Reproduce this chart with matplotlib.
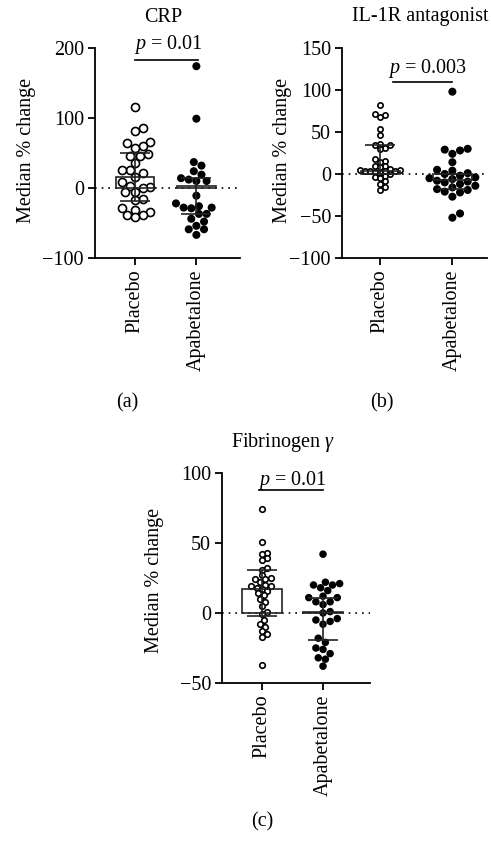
import numpy as np
import matplotlib
matplotlib.use("Agg")
import matplotlib.pyplot as plt

# ---- data ----
groups = ["Placebo", "Apabetalone"]

crp_placebo = [116, 86, 82, 66, 64, 60, 57, 49, 45, 45, 36, 26, 26, 21, 16, 8, 3, 2, 0,
               -6, -6, -16, -17, -29, -31, -35, -39, -39, -42]
crp_apab = [174, 99, 37, 32, 24, 19, 14, 12, 10, 10, -11, -22, -26, -28, -28, -29,
            -37, -37, -44, -48, -54, -59, -59, -67]

il1r_placebo = [82, 72, 70, 68, 54, 47, 36, 35, 34, 31, 30, 18, 16, 14, 10, 9, 8, 6, 5, 5,
                4, 4, 3, 3, 2, 1, 0, -2, -4, -5, -8, -12, -15, -19]
il1r_apab = [98, 30, 29, 28, 24, 14, 5, 4, 1, 0, -2, -4, -5, -6, -8, -9, -10, -12, -14,
             -16, -18, -19, -21, -22, -27, -47, -52]

fib_placebo = [74, 51, 43, 42, 39, 38, 32, 31, 27, 25, 24, 24, 22, 20, 19, 19, 18, 17, 16,
               14, 13, 10, 8, 5, 1, -1, -5, -8, -10, -13, -15, -17, -37]
fib_apab = [42, 22, 21, 20, 20, 18, 16, 12, 11, 11, 8, 8, 6, 1, 0, -4, -5, -6, -8, -18,
            -21, -25, -26, -29, -32, -33, -38]

# median bar and whisker ends (lower, upper) per group
crp_median = [16, 3]
crp_low = [-18, -37]
crp_high = [50, 14]
il1r_median = [4, -7]
il1r_low = [0, -18]
il1r_high = [35, 0]
fib_median = [17, 1]
fib_low = [-2, -19]
fib_high = [31, 11]

titles = ["CRP", "IL-1R antagonist", "Fibrinogen $\\gamma$"]
p_labels = ["$p$ = 0.01", "$p$ = 0.003", "$p$ = 0.01"]
panel_tags = ["(a)", "(b)", "(c)"]

# ---- style ----
plt.rcParams["font.family"] = ["Liberation Serif", "DejaVu Serif"]
plt.rcParams["mathtext.fontset"] = "custom"
plt.rcParams["mathtext.rm"] = "Liberation Serif"
plt.rcParams["mathtext.it"] = "Liberation Serif:italic"
plt.rcParams["axes.linewidth"] = 1.3
FS = 14.5

W, H = 491, 846
fig = plt.figure(figsize=(W / 100, H / 100), dpi=100)


def px_axes(left, top, right, bottom):
    ax = fig.add_axes([left / W, 1 - bottom / H, (right - left) / W, (bottom - top) / H])
    ax.px_w = right - left
    ax.px_h = bottom - top
    return ax


def swarm_offsets(values, ylim, xlim, ax, diam_px, pack=0.95):
    # simple beeswarm: place each point at the nearest free horizontal slot
    ys = (np.array(values, float) - ylim[0]) / (ylim[1] - ylim[0]) * ax.px_h
    d = diam_px * pack
    placed = []
    xs = np.zeros(len(values))
    for i in np.argsort(ys):
        k = 0
        while True:
            for off in ([0.0] if k == 0 else [k * d / 3, -k * d / 3]):
                if all((off - px) ** 2 + (ys[i] - py) ** 2 >= d * d for px, py in placed):
                    xs[i] = off
                    placed.append((off, ys[i]))
                    break
            else:
                k += 1
                continue
            break
    return xs / ax.px_w * (xlim[1] - xlim[0])


def draw_panel(ax, placebo, apab, med, low, high, ylim, yticks, xlim, barw,
               sizes, pline_y, pline_x):
    for gi, (vals, sz) in enumerate(zip([placebo, apab], sizes)):
        diam = sz * 100 / 72
        offs = swarm_offsets(vals, ylim, xlim, ax, diam)
        if gi == 0:
            ax.scatter(gi + offs, vals, s=sz ** 2, facecolor="white", edgecolor="black",
                       linewidth=1.2, zorder=2)
        else:
            ax.scatter(gi + offs, vals, s=sz ** 2, facecolor="black", edgecolor="none",
                       zorder=2)
    xs = np.arange(2)
    ax.bar(xs, med, width=barw, fill=False, edgecolor="#222222", linewidth=1.2, zorder=3)
    yerr = [np.array(med) - np.array(low), np.array(high) - np.array(med)]
    ax.errorbar(xs, med, yerr=yerr, fmt="none", ecolor="#222222", elinewidth=1.2,
                capsize=11, capthick=1.2, zorder=3)
    ax.axhline(0, color="black", linestyle=(0, (1, 3)), linewidth=1.2, zorder=1)
    ax.plot(pline_x, [pline_y, pline_y], color="black", linewidth=1.2, clip_on=False)
    ax.set_xlim(xlim)
    ax.set_ylim(ylim)
    ax.set_yticks(yticks)
    ax.set_yticklabels(["\u2212" + str(-t) if t < 0 else str(t) for t in yticks])
    ax.set_xticks(xs)
    ax.set_xticklabels(groups, rotation=90, fontsize=FS)
    ax.tick_params(axis="y", labelsize=FS, length=5, width=1.3, pad=3)
    ax.tick_params(axis="x", length=5, width=1.3, pad=3)
    ax.spines["top"].set_visible(False)
    ax.spines["right"].set_visible(False)


ax1 = px_axes(95, 48, 240, 258)
draw_panel(ax1, crp_placebo, crp_apab, crp_median, crp_low, crp_high,
           (-100, 200), [-100, 0, 100, 200], (-0.65, 1.71), 0.63, (5.8, 5.8),
           183, [0, 1.02])
ax2 = px_axes(342, 48, 487, 258)
draw_panel(ax2, il1r_placebo, il1r_apab, il1r_median, il1r_low, il1r_high,
           (-100, 150), [-100, -50, 0, 50, 100, 150], (-0.53, 1.48), 0.54, (3.8, 5.8),
           109, [0.18, 1.0])
ax3 = px_axes(222, 473, 370, 683)
draw_panel(ax3, fib_placebo, fib_apab, fib_median, fib_low, fib_high,
           (-50, 100), [-50, 0, 50, 100], (-0.655, 1.77), 0.64, (4.0, 5.4),
           87.6, [-0.05, 1.0])


# titles, p values, y labels, panel tags (pixel positions)
def ftext(x, y, s, **kw):
    fig.text(x / W, 1 - y / H, s, fontsize=FS, ha="center", va="center", **kw)


ftext(163, 17, titles[0])
ftext(420, 17, titles[1])
ftext(283, 442, titles[2])
ftext(168, 45, p_labels[0])
ftext(428, 68, p_labels[1])
ftext(292, 480, p_labels[2])
ftext(27, 150, "Median % change", rotation=90)
ftext(282, 150, "Median % change", rotation=90)
ftext(155, 580, "Median % change", rotation=90)
ftext(127, 403, panel_tags[0])
ftext(382, 403, panel_tags[1])
ftext(262, 822, panel_tags[2])

fig.savefig("out.png", dpi=100)
